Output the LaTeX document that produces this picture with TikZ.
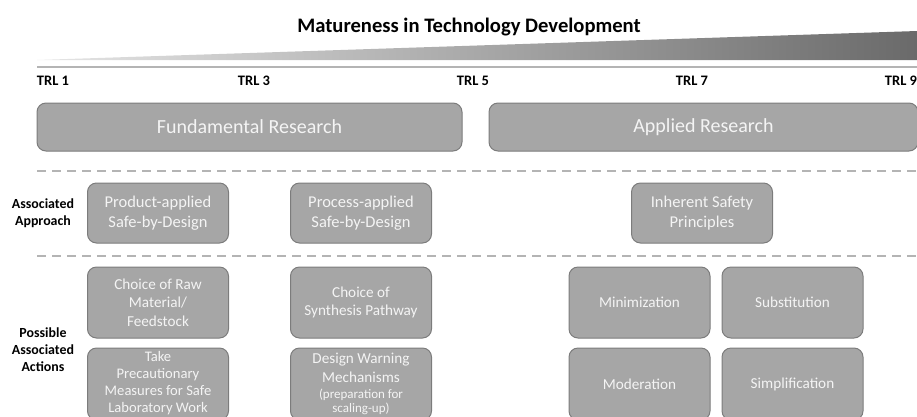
\documentclass[tikz,border=0pt]{standalone}
\usepackage{fontspec}
\setmainfont{Carlito}
\usetikzlibrary{positioning}

\definecolor{boxfill}{HTML}{A6A6A6}
\definecolor{boxline}{HTML}{7C7C7C}
\definecolor{boxtext}{HTML}{F4F4F4}
\definecolor{sepgray}{HTML}{B4B4B4}
\definecolor{wedgelight}{HTML}{E6E6E6}
\definecolor{wedgedark}{HTML}{6A6A6A}

\begin{document}
\begin{tikzpicture}[x=1pt,y=-1pt]
        \tikzstyle{box}=[draw=boxline,fill=boxfill,line width=1pt,rounded corners=9pt,
                         text=boxtext,align=center,inner sep=0pt]
        \tikzstyle{phase}=[box,minimum width=429pt,minimum height=48pt,
                           font=\fontsize{20}{24}\selectfont]
        \tikzstyle{approach}=[box,minimum width=141pt,minimum height=60pt,
                              font=\fontsize{16.5}{20}\selectfont]
        \tikzstyle{action}=[box,minimum width=141pt,minimum height=71pt,
                            font=\fontsize{15.2}{18.5}\selectfont]
        \tikzstyle{trl}=[font=\bfseries\fontsize{14.5}{16}\selectfont]
        \tikzstyle{rowlabel}=[align=center,font=\bfseries\fontsize{13.9}{17}\selectfont]
        \tikzstyle{sep}=[draw=sepgray,line width=1.6pt,dash pattern=on 9pt off 6pt]

        \useasboundingbox (0,0) rectangle (917,416);

        % maturity wedge and scale
        \shade[left color=wedgelight,right color=wedgedark] (37,60) -- (917,31) -- (917,60) -- cycle;
        \draw[draw=sepgray,line width=1.8pt] (37,67) -- (917,67);
        \node[font=\bfseries\fontsize{20.6}{24}\selectfont] (title) at (469,27) {Matureness in Technology Development};

        \foreach \n/\x in {1/53, 3/254, 5/473, 7/692, 9/901} {
            \node [trl] (trl\n) at (\x,81) {TRL \n};
        };

        % research phases
        \node [phase,minimum width=425pt] (fund) at (249.5,127) {Fundamental Research};
        \node [phase] (appl) at (703.5,127) {Applied Research};

        \draw[sep] (37,171) -- (917,171);
        \draw[sep] (37,256) -- (917,256);

        % approaches
        \node [rowlabel] (approachlbl) at (43,213) {Associated\\Approach};
        \node [approach] (product) at (158,213) {Product-applied\\Safe-by-Design};
        \node [approach] (process) at (361,213) {Process-applied\\Safe-by-Design};
        \node [approach] (inherent) at (702,213) {Inherent Safety\\Principles};

        % actions
        \node [rowlabel] (actionlbl) at (43,350) {Possible\\Associated\\Actions};
        \node [action] (raw) at (158,302.5) {Choice of Raw\\Material/\\Feedstock};
        \node [action,below=9pt of raw,minimum height=72pt,text depth=4pt,
               font=\fontsize{14.6}{17}\selectfont] (lab) {Take\\Precautionary\\Measures for Safe\\Laboratory Work};
        \node [action] (synth) at (361,302.5) {Choice of\\Synthesis Pathway};
        \node [action,below=9pt of synth,minimum height=72pt] (warn) {Design Warning\\Mechanisms\\[-2.5pt]{\fontsize{13}{14}\selectfont (preparation for}\\[-4.5pt]{\fontsize{13}{14}\selectfont scaling-up)}};
        \node [action] (mini) at (639.5,302.5) {Minimization};
        \node [action,right=11pt of mini] (subst) {Substitution};
        \node [action,below=9pt of mini,minimum height=72pt] (moder) {Moderation};
        \node [action,below=9pt of subst,minimum height=72pt] (simpl) {Simplification};

\end{tikzpicture}
\end{document}
